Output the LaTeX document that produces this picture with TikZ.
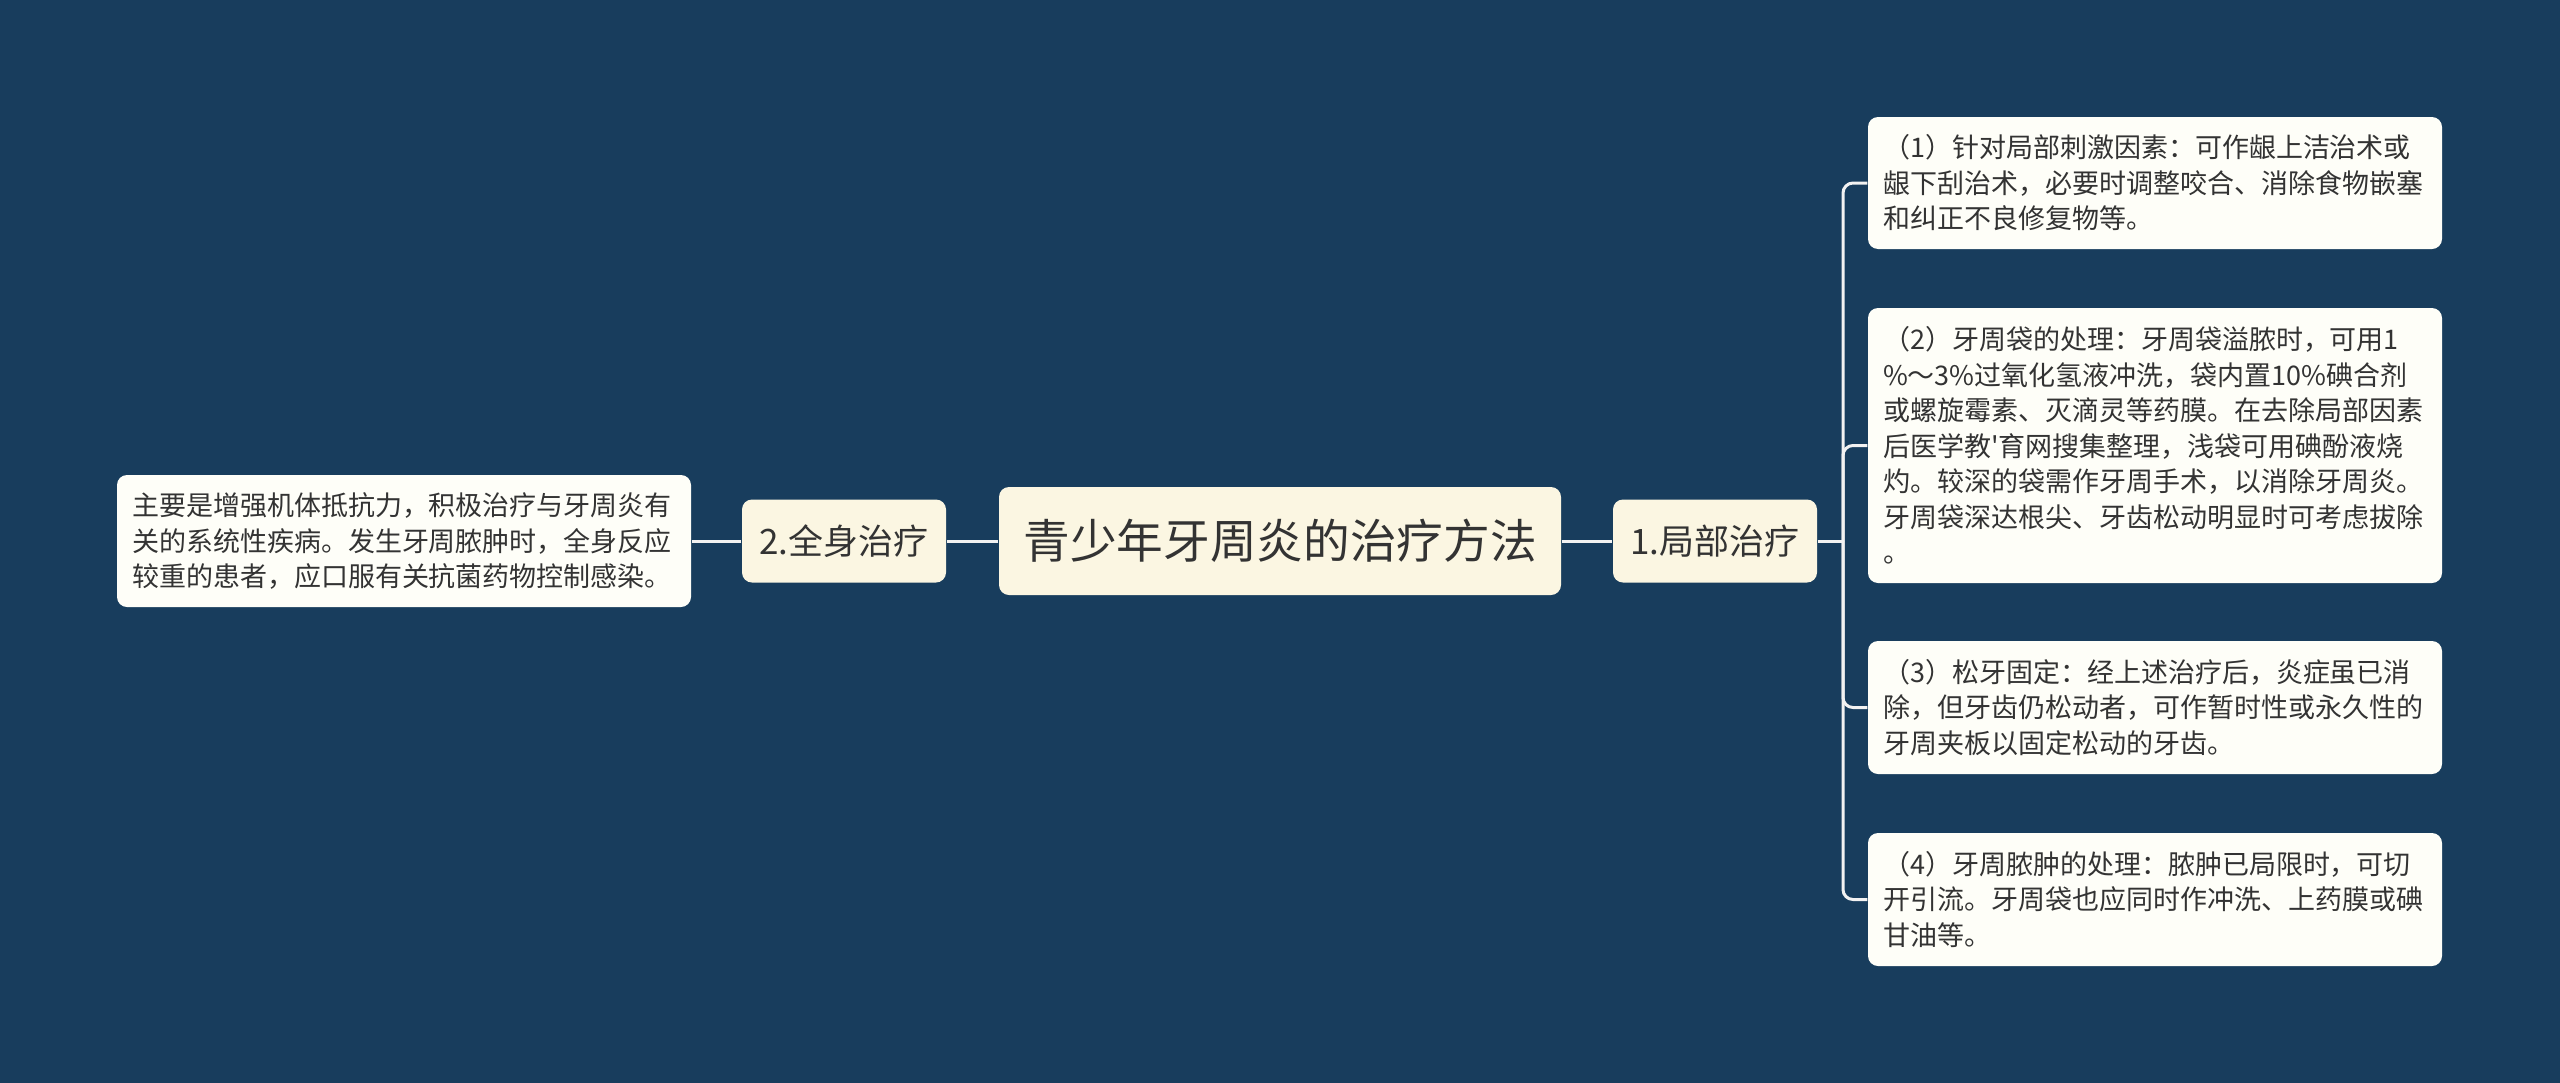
\documentclass[tikz,border=0pt]{standalone}
\usepackage{fontspec}
\setmainfont{Noto Sans CJK SC}[Ligatures=TeXOff]
\definecolor{bg}{HTML}{183D5D}
\definecolor{cream}{HTML}{FBF6E2}
\definecolor{leaf}{HTML}{FEFEF8}
\definecolor{ink}{HTML}{333333}
\definecolor{wire}{HTML}{F2F2F2}

\begin{document}
\begin{tikzpicture}[x=0.3pt, y=-0.3pt,
		topic/.style={fill=cream, rounded corners=3pt, text=ink, inner sep=0pt, font=\fontsize{10.5pt}{12pt}\selectfont, minimum width=61.2pt, minimum height=24.9pt},
		note/.style={fill=leaf, rounded corners=3pt, text=ink, align=left, text width=163.2pt, inner xsep=4.5pt, inner ysep=0pt, font=\fontsize{8.1pt}{10.65pt}\selectfont},
		link/.style={draw=wire, line width=0.9pt}]
			\fill[bg] (0,0) rectangle (2560,1083);
			\useasboundingbox (0,0) rectangle (2560,1083);

			\node[topic, minimum width=168.6pt, minimum height=32.4pt, font=\fontsize{14pt}{17pt}\selectfont] (root) at (1280, 541) {青少年牙周炎的治疗方法};

			\node[topic] (whole) at (844, 541) {2.全身治疗};
			\node[topic] (local) at (1715, 541) {1.局部治疗};

			\node[note, minimum height=39.6pt] (w1) at (404, 541) {主要是增强机体抵抗力，积极治疗与牙周炎有\\关的系统性疾病。发生牙周脓肿时，全身反应\\较重的患者，应口服有关抗菌药物控制感染。};

			\node[note, minimum height=39.6pt] (r1) at (2155, 183) {（1）针对局部刺激因素：可作龈上洁治术或\\龈下刮治术，必要时调整咬合、消除食物嵌塞\\和纠正不良修复物等。};
			\node[note, minimum height=82.5pt] (r2) at (2155, 445.5) {（2）牙周袋的处理：牙周袋溢脓时，可用1\\\%～3\%过氧化氢液冲洗，袋内置10\%碘合剂\\或螺旋霉素、灭滴灵等药膜。在去除局部因素\\后医学教'育网搜集整理，浅袋可用碘酚液烧\\灼。较深的袋需作牙周手术，以消除牙周炎。\\牙周袋深达根尖、牙齿松动明显时可考虑拔除\\。};
			\node[note, minimum height=39.9pt] (r3) at (2155, 707.5) {（3）松牙固定：经上述治疗后，炎症虽已消\\除，但牙齿仍松动者，可作暂时性或永久性的\\牙周夹板以固定松动的牙齿。};
			\node[note, minimum height=39.9pt] (r4) at (2155, 899.5) {（4）牙周脓肿的处理：脓肿已局限时，可切\\开引流。牙周袋也应同时作冲洗、上药膜或碘\\甘油等。};

			\coordinate (trunk) at (1843, 541);

			\draw[link] (root) -- (whole);
			\draw[link] (root) -- (local);
			\draw[link] (whole) -- (w1);
			\draw[link] (local) -- (trunk);

			\foreach \n in {r1, r2, r3, r4}
			\draw[link, rounded corners=3pt] (trunk) |- (\n.west);
		\end{tikzpicture}
\end{document}
